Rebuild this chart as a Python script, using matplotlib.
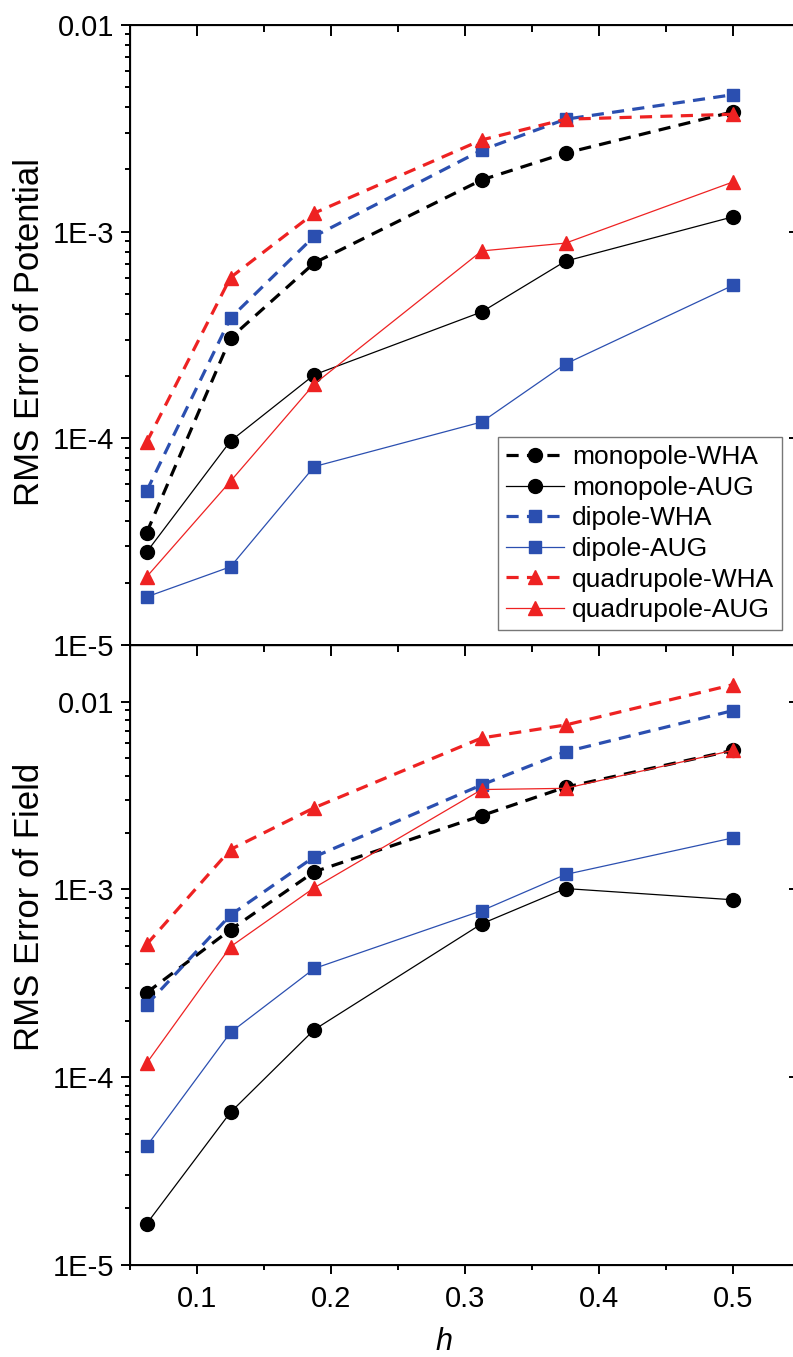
import numpy as np
import matplotlib
matplotlib.use("Agg")
import matplotlib.pyplot as plt
from matplotlib.ticker import LogLocator, FuncFormatter, MultipleLocator, NullFormatter

plt.rcParams['font.family'] = ['Liberation Sans', 'DejaVu Sans']

h = [0.0625, 0.125, 0.1875, 0.3125, 0.375, 0.5]

# RMS error of potential
pot_mono_wha = [3.5e-5, 3.06e-4, 7.06e-4, 1.78e-3, 2.4e-3, 3.8e-3]
pot_mono_aug = [2.82e-5, 9.7e-5, 2.03e-4, 4.09e-4, 7.2e-4, 1.18e-3]
pot_dip_wha = [5.57e-5, 3.82e-4, 9.5e-4, 2.48e-3, 3.5e-3, 4.6e-3]
pot_dip_aug = [1.71e-5, 2.39e-5, 7.3e-5, 1.2e-4, 2.29e-4, 5.5e-4]
pot_quad_wha = [9.6e-5, 6.0e-4, 1.23e-3, 2.78e-3, 3.5e-3, 3.7e-3]
pot_quad_aug = [2.14e-5, 6.2e-5, 1.83e-4, 8.07e-4, 8.8e-4, 1.74e-3]

# RMS error of field
fld_mono_wha = [2.82e-4, 6.1e-4, 1.24e-3, 2.47e-3, 3.5e-3, 5.5e-3]
fld_mono_aug = [1.66e-5, 6.5e-5, 1.79e-4, 6.56e-4, 1.01e-3, 8.8e-4]
fld_dip_wha = [2.43e-4, 7.3e-4, 1.49e-3, 3.6e-3, 5.4e-3, 8.95e-3]
fld_dip_aug = [4.3e-5, 1.73e-4, 3.79e-4, 7.7e-4, 1.2e-3, 1.88e-3]
fld_quad_wha = [5.1e-4, 1.63e-3, 2.72e-3, 6.4e-3, 7.5e-3, 1.23e-2]
fld_quad_aug = [1.19e-4, 4.95e-4, 1.02e-3, 3.4e-3, 3.45e-3, 5.5e-3]

labels = ["monopole-WHA", "monopole-AUG", "dipole-WHA", "dipole-AUG",
          "quadrupole-WHA", "quadrupole-AUG"]

BLACK = "black"
BLUE = "#2b4fb0"
RED = "#ee2222"
styles = [
    (BLACK, "o", True),
    (BLACK, "o", False),
    (BLUE, "s", True),
    (BLUE, "s", False),
    (RED, "^", True),
    (RED, "^", False),
]
msizes = {"o": 10, "s": 8.5, "^": 10.5}


def fmt(v, pos):
    if abs(v - 0.01) < 1e-9:
        return "0.01"
    return "1E%d" % int(round(np.log10(v)))


def draw(ax, series, ylim):
    for vals, lab, (c, m, dashed) in zip(series, labels, styles):
        if dashed:
            ax.plot(h, vals, color=c, marker=m, ms=msizes[m], lw=2.3,
                    ls="--", dashes=(3.8, 2.6), label=lab, mec=c)
        else:
            ax.plot(h, vals, color=c, marker=m, ms=msizes[m], lw=0.9,
                    label=lab, mec=c)
    ax.set_yscale("log")
    ax.set_ylim(*ylim)
    ax.set_xlim(0.05, 0.55)
    ax.xaxis.set_major_locator(MultipleLocator(0.1))
    ax.xaxis.set_minor_locator(MultipleLocator(0.05))
    ax.yaxis.set_major_locator(LogLocator(base=10, numticks=10))
    ax.yaxis.set_minor_locator(LogLocator(base=10, subs=np.arange(2, 10), numticks=20))
    ax.yaxis.set_major_formatter(FuncFormatter(fmt))
    ax.yaxis.set_minor_formatter(NullFormatter())
    ax.tick_params(which="both", direction="out", top=False, right=False,
                   labelsize=21, width=1.4, pad=5)
    ax.tick_params(which="major", length=6.5)
    ax.tick_params(which="minor", length=3.5)
    for s in ax.spines.values():
        s.set_linewidth(1.4)

    # mirrored ticks pointing inward on top and right
    axr = ax.twinx()
    axr.set_yscale("log")
    axr.set_ylim(*ylim)
    axr.yaxis.set_major_locator(LogLocator(base=10, numticks=10))
    axr.yaxis.set_minor_locator(LogLocator(base=10, subs=np.arange(2, 10), numticks=20))
    axr.tick_params(which="both", direction="in", labelright=False, width=1.4)
    axr.tick_params(which="major", length=8)
    axr.tick_params(which="minor", length=3.5)
    axt = ax.twiny()
    axt.set_xlim(0.05, 0.55)
    axt.xaxis.set_major_locator(MultipleLocator(0.1))
    axt.xaxis.set_minor_locator(MultipleLocator(0.05))
    axt.tick_params(which="both", direction="in", labeltop=False, width=1.4)
    axt.tick_params(which="major", length=8)
    axt.tick_params(which="minor", length=5)


fig = plt.figure(figsize=(7.93, 13.57), dpi=100)
W, H = 793.0, 1357.0
ax_top = fig.add_axes([130 / W, 1 - 645 / H, 670 / W, 620 / H])
ax_bot = fig.add_axes([130 / W, 1 - 1265 / H, 670 / W, 620 / H])

draw(ax_top, [pot_mono_wha, pot_mono_aug, pot_dip_wha, pot_dip_aug,
              pot_quad_wha, pot_quad_aug], (1e-5, 1e-2))
draw(ax_bot, [fld_mono_wha, fld_mono_aug, fld_dip_wha, fld_dip_aug,
              fld_quad_wha, fld_quad_aug], (1e-5, 2e-2))

ax_top.tick_params(labelbottom=False)
ax_bot.tick_params(axis="x", pad=8)

ax_top.set_ylabel("RMS Error of Potential", fontsize=25)
ax_bot.set_ylabel("RMS Error of Field", fontsize=25)
ax_top.yaxis.set_label_coords(-0.125, 0.505)
ax_bot.yaxis.set_label_coords(-0.125, 0.577)
ax_bot.set_xlabel("h", fontsize=22, style="italic")
ax_bot.xaxis.set_label_coords(0.469, -0.10)

leg = ax_top.legend(loc="lower right", bbox_to_anchor=(0.973, 0.024),
                    borderaxespad=0, fontsize=19, frameon=True, fancybox=False,
                    handlelength=2.2, handletextpad=0.3, labelspacing=0.25,
                    borderpad=0.3)
leg.get_frame().set_edgecolor("#555555")
leg.get_frame().set_linewidth(1.0)
leg.set_zorder(10)

fig.savefig("out.png", dpi=100)
